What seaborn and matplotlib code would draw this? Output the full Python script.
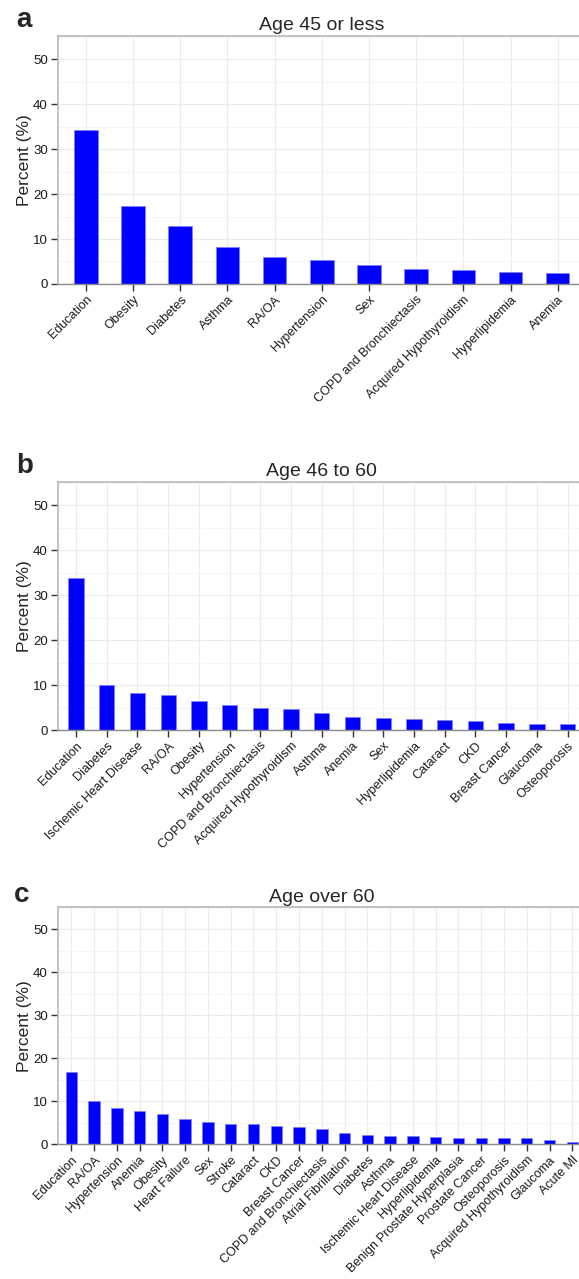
import seaborn as sns
import matplotlib.pyplot as plt
import pandas as pd
from matplotlib.ticker import MultipleLocator

# Percent of respondents per item
cats_a = ['Education', 'Obesity', 'Diabetes', 'Asthma', 'RA/OA', 'Hypertension', 'Sex',
          'COPD and Bronchiectasis', 'Acquired Hypothyroidism', 'Hyperlipidemia', 'Anemia']
pct_a = [34.3, 17.4, 12.8, 8.3, 6.0, 5.4, 4.3, 3.4, 3.0, 2.6, 2.45]

cats_b = ['Education', 'Diabetes', 'Ischemic Heart Disease', 'RA/OA', 'Obesity', 'Hypertension',
          'COPD and Bronchiectasis', 'Acquired Hypothyroidism', 'Asthma', 'Anemia', 'Sex',
          'Hyperlipidemia', 'Cataract', 'CKD', 'Breast Cancer', 'Glaucoma', 'Osteoporosis']
pct_b = [33.7, 10.1, 8.2, 7.7, 6.5, 5.6, 4.9, 4.6, 3.9, 2.8, 2.6, 2.5, 2.3, 2.1, 1.6, 1.3, 1.3]

cats_c = ['Education', 'RA/OA', 'Hypertension', 'Anemia', 'Obesity', 'Heart Failure', 'Sex',
          'Stroke', 'Cataract', 'CKD', 'Breast Cancer', 'COPD and Bronchiectasis',
          'Atrial Fibrillation', 'Diabetes', 'Asthma', 'Ischemic Heart Disease', 'Hyperlipidemia',
          'Benign Prostate Hyperplasia', 'Prostate Cancer', 'Osteoporosis',
          'Acquired Hypothyroidism', 'Glaucoma', 'Acute MI']
pct_c = [16.9, 10.0, 8.4, 7.7, 7.1, 5.9, 5.1, 4.7, 4.7, 4.3, 4.1, 3.6, 2.6, 2.1, 1.9, 1.9,
         1.6, 1.5, 1.5, 1.4, 1.4, 1.1, 0.5]

titles = ['Age 45 or less', 'Age 46 to 60', 'Age over 60']
letters = ['a', 'b', 'c']

sns.set_theme(style="white")
plt.rcParams['font.family'] = ['Liberation Sans', 'DejaVu Sans']

fig = plt.figure(figsize=(5.79, 12.79), dpi=100)

# axes rectangles (the panels run slightly past the right edge, as in the original)
rects = [[0.0995, 0.7780, 0.9126, 0.1939],
         [0.0995, 0.4292, 0.9126, 0.1941],
         [0.0995, 0.1053, 0.9126, 0.1855]]
letter_pos = [(24 / 579, 1 - 20 / 1279), (25 / 579, 1 - 466 / 1279), (22 / 579, 1 - 895 / 1279)]

for cats, vals, title, letter, rect, lpos in zip([cats_a, cats_b, cats_c], [pct_a, pct_b, pct_c],
                                               titles, letters, rects, letter_pos):
    ax = fig.add_axes(rect)
    df = pd.DataFrame({'item': cats, 'pct': vals})
    sns.barplot(data=df, x='item', y='pct', color='#0000ff', saturation=1, width=0.5,
                edgecolor='#8080ff', linewidth=0.5, ax=ax)
    ax.set_xlim(-0.6, len(cats) - 0.4)
    ax.set_ylim(0, 55.2)
    ax.yaxis.set_major_locator(MultipleLocator(10))
    ax.yaxis.set_minor_locator(MultipleLocator(5))
    ax.set_axisbelow(True)
    ax.grid(which='major', color='#ebebeb', linewidth=0.8)
    ax.grid(which='minor', axis='y', color='#f5f5f5', linewidth=0.8)

    for side in ['top', 'left']:
        ax.spines[side].set_color('#b8b8b8')
        ax.spines[side].set_linewidth(1.2)
    ax.spines['bottom'].set_color('#8c8c8c')
    ax.spines['bottom'].set_linewidth(1.0)
    ax.spines['right'].set_visible(False)

    ax.tick_params(axis='both', which='major', direction='out', length=5, width=1,
                   color='#333333', labelcolor='#1a1a1a', labelsize=9.5, pad=2,
                   bottom=True, left=True)
    ax.tick_params(axis='y', which='minor', length=0)
    ax.tick_params(axis='x', labelsize=9)
    plt.setp(ax.get_xticklabels(), rotation=45, ha='right', rotation_mode='anchor')

    ax.set_xlabel('')
    ax.set_ylabel('Percent (%)', fontsize=12.5)
    ax.yaxis.set_label_coords(-0.048, 0.5)
    ax.set_title(title, fontsize=14, pad=4)

    fig.text(lpos[0], lpos[1], letter, ha='center', va='center', fontsize=20, fontweight='bold')

plt.savefig('out.png', dpi=100)
